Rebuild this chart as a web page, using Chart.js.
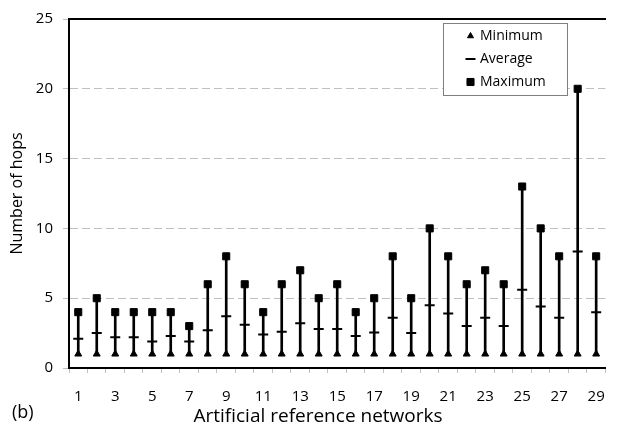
<!DOCTYPE html>
<html>
<head>
<meta charset="utf-8">
<script src="https://cdn.jsdelivr.net/npm/chart.js@4/dist/chart.umd.min.js"></script>
<style>
  html, body { margin: 0; padding: 0; background: #fff; overflow: hidden; }
  #wrap { position: relative; width: 620px; height: 430px; }
</style>
</head>
<body>
<div id="wrap"><canvas id="myChart"></canvas></div>
<script>
// datos
const networks = ["1","2","3","4","5","6","7","8","9","10","11","12","13","14","15",
                  "16","17","18","19","20","21","22","23","24","25","26","27","28","29"];
const minimum = [1,1,1,1,1,1,1,1,1,1,1,1,1,1,1,1,1,1,1,1,1,1,1,1,1,1,1,1,1];
const average = [2.1,2.5,2.2,2.2,1.9,2.3,1.9,2.7,3.7,3.1,2.4,2.6,3.2,2.8,2.8,
                 2.3,2.55,3.6,2.5,4.5,3.9,3.0,3.6,3.0,5.6,4.4,3.6,8.35,4.0];
const maximum = [4,5,4,4,4,4,3,6,8,6,4,6,7,5,6,4,5,8,5,10,8,6,7,6,13,10,8,20,8];

const FONT = "'Open Sans'";
const GRAY = "#bfbfbf";

// leyenda dentro del grafico + textos sueltos
const extraText = {
    id: "extraText",
    afterDraw(chart) {
        const ctx = chart.ctx;
        ctx.save();
        // caja de leyenda
        ctx.strokeStyle = "#7f7f7f";
        ctx.lineWidth = 1;
        ctx.fillStyle = "#fff";
        ctx.fillRect(443.5, 23.5, 124, 72);
        ctx.strokeRect(443.5, 23.5, 124, 72);
        const rows = [1, 2, 3]; // indices de datasets: min, avg, max
        const ys = [36, 59, 82];
        ctx.font = "14px " + FONT;
        ctx.textBaseline = "middle";
        rows.forEach((di, k) => {
            const ds = chart.data.datasets[di];
            ctx.fillStyle = "#000";
            ctx.strokeStyle = "#000";
            ctx.lineWidth = ds.pointBorderWidth;
            Chart.helpers.drawPoint(ctx, {
                pointStyle: ds.pointStyle,
                radius: ds.legendRadius,
                borderWidth: ds.pointBorderWidth,
                rotation: 0
            }, 470.5, ys[k]);
            ctx.fillStyle = "#000";
            ctx.textAlign = "left";
            ctx.fillText(ds.label, 480, ys[k]);
        });
        // titulo eje x y etiqueta (b)
        ctx.font = "19px " + FONT;
        ctx.fillStyle = "#000";
        ctx.textAlign = "center";
        ctx.fillText("Artificial reference networks", 318, 417);
        ctx.font = "18px " + FONT;
        ctx.textAlign = "left";
        ctx.fillText("(b)", 12, 413);
        ctx.restore();
    }
};

new Chart("myChart", {
    data: {
        labels: networks,
        datasets: [
            {
                type: "bar",
                label: "range",
                data: networks.map((_, i) => [minimum[i], maximum[i]]),
                backgroundColor: "#000",
                barThickness: 2,
                order: 10
            },
            {
                type: "line",
                label: "Minimum",
                data: minimum,
                showLine: false,
                pointStyle: "triangle",
                pointRadius: 4,
                legendRadius: 3.5,
                pointBackgroundColor: "#000",
                pointBorderColor: "#000",
                pointBorderWidth: 1,
                order: 1
            },
            {
                type: "line",
                label: "Average",
                data: average,
                showLine: false,
                pointStyle: "line",
                pointRadius: 5,
                legendRadius: 5,
                pointBorderColor: "#000",
                pointBorderWidth: 2,
                order: 1
            },
            {
                type: "line",
                label: "Maximum",
                data: maximum,
                showLine: false,
                pointStyle: "rect",
                pointRadius: 5,
                legendRadius: 5,
                pointBackgroundColor: "#000",
                pointBorderColor: "#000",
                pointBorderWidth: 1,
                order: 1
            }
        ]
    },
    options: {
        responsive: true,
        maintainAspectRatio: false,
        animation: false,
        events: [],
        layout: { padding: { top: 13, right: 1, left: 0, bottom: 0 } },
        plugins: {
            legend: { display: false },
            tooltip: { enabled: false }
        },
        scales: {
            x: {
                type: "category",
                position: "bottom",
                offset: true,
                afterFit: (s) => { s.height = 62; },
                grid: {
                    offset: true,
                    drawOnChartArea: false,
                    tickLength: 5,
                    tickColor: GRAY,
                    tickWidth: 1
                },
                border: { color: "#000", width: 2 },
                ticks: {
                    autoSkip: false,
                    maxRotation: 0,
                    padding: 15,
                    color: "#000",
                    font: { family: FONT, size: 15 },
                    callback: function (v, i) { return i % 2 === 0 ? networks[i] : ""; }
                }
            },
            xTop: {
                type: "category",
                position: "top",
                afterFit: (s) => { s.height = 0; },
                grid: { display: false, drawTicks: false },
                border: { color: "#000", width: 2 },
                ticks: { display: false }
            },
            y: {
                min: 0,
                max: 25,
                afterFit: (s) => { s.width = 69; },
                ticks: {
                    stepSize: 5,
                    padding: 10,
                    color: "#000",
                    font: { family: FONT, size: 15 }
                },
                grid: {
                    color: (c) => (c.tick && (c.tick.value === 0 || c.tick.value === 25)) ? "rgba(0,0,0,0)" : GRAY,
                    lineWidth: 1,
                    tickLength: 6,
                    tickColor: GRAY,
                    tickBorderDash: []
                },
                border: { color: "#000", width: 2, dash: [8, 4] },
                title: {
                    display: true,
                    text: "Number of hops",
                    color: "#000",
                    font: { family: FONT, size: 16 },
                    padding: { top: 8, bottom: 0 }
                }
            }
        }
    },
    plugins: [extraText]
});
</script>
</body>
</html>
